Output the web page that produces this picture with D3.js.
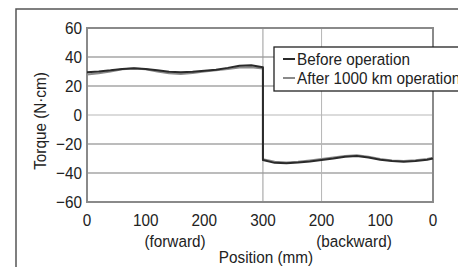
<!DOCTYPE html>
<html>
<head>
<meta charset="utf-8">
<script src="https://cdn.jsdelivr.net/npm/d3@7"></script>
<style>
  html, body { margin: 0; padding: 0; background: #fff; }
  svg { display: block; font-family: "Liberation Sans", Arial, sans-serif; }
</style>
</head>
<body>
<div id="chart"></div>
<script>
// travel position in mm along the whole stroke (forward 0..300, then backward)
const posMm = [0, 20, 40, 60, 80, 100, 120, 140, 160, 180, 200, 220, 240, 260, 280, 300,
  300, 320, 340, 360, 380, 400, 420, 440, 460, 480, 500, 520, 540, 560, 580, 590];

const beforeOp = [29.5, 30, 30.8, 31.8, 32.2, 31.8, 30.8, 29.8, 29.4, 29.8, 30.5, 31.2, 32.5, 34, 34.3, 33,
  -31, -33, -33.3, -32.8, -32, -31, -30, -28.8, -28.3, -29.3, -30.8, -31.8, -32.2, -31.8, -30.8, -30];

const afterOp = [28, 28.8, 30, 31.5, 32, 31.5, 30, 28.8, 28.2, 29, 30, 30.8, 31.8, 32.8, 33, 32,
  -30.5, -32.3, -32.8, -32.3, -31.3, -30.3, -29.3, -28.3, -27.8, -28.8, -30.3, -31.3, -31.7, -31.2, -30.3, -29.5];

const xTickPos = [0, 100, 200, 300, 400, 500, 590];
const xTickLabels = ["0", "100", "200", "300", "200", "100", "0"];
const yTicks = [60, 40, 20, 0, -20, -40, -60];
const seriesNames = ["Before operation", "After 1000 km operation"];
const seriesColors = ["#2a2a2a", "#8a8a8a"];

const W = 458, H = 267;
const M = { top: 28, right: 25, bottom: 65, left: 87 };
const FS = 17;      // font size
const SX = 0.9;     // the source lettering is a bit condensed

const svg = d3.select("#chart").append("svg")
  .attr("width", W)
  .attr("height", H);

svg.append("rect").attr("width", W).attr("height", H).attr("fill", "#fff");

// condensed text helper
const label = (parent, tx, ty, str, anchor, rot) => parent.append("text")
  .attr("transform", `translate(${tx},${ty})` + (rot ? ` rotate(${rot})` : "") + ` scale(${SX},1)`)
  .attr("text-anchor", anchor || "start")
  .attr("font-size", FS)
  .attr("fill", "#222")
  .text(str);

// outer frame (left and top edges only visible)
svg.append("path")
  .attr("d", `M16,${H + 2} V9 H${W + 2}`)
  .attr("fill", "none")
  .attr("stroke", "#555")
  .attr("stroke-width", 1.5);

const x = d3.scaleLinear().domain([0, 590]).range([M.left, W - M.right]);
const y = d3.scaleLinear().domain([-60, 60]).range([H - M.bottom, M.top]);

// horizontal grid
svg.append("g")
  .selectAll("line")
  .data(yTicks.filter(d => Math.abs(d) < 60))
  .join("line")
  .attr("x1", x(0)).attr("x2", x(590))
  .attr("y1", d => y(d)).attr("y2", d => y(d))
  .attr("stroke", d => d === 0 ? "#cfcfcf" : "#7a7a7a")
  .attr("stroke-width", d => d === 0 ? 1.6 : 1.2);

// vertical grid (turnaround + one backward line)
svg.append("g")
  .selectAll("line")
  .data([300, 400])
  .join("line")
  .attr("x1", d => x(d)).attr("x2", d => x(d))
  .attr("y1", y(60)).attr("y2", y(-60))
  .attr("stroke", d => d === 300 ? "#9a9a9a" : "#b5b5b5")
  .attr("stroke-width", 1);

// plot frame
svg.append("rect")
  .attr("x", x(0)).attr("y", y(60))
  .attr("width", x(590) - x(0)).attr("height", y(-60) - y(60))
  .attr("fill", "none")
  .attr("stroke", "#8a8a8a")
  .attr("stroke-width", 2);

// lines
const line = d3.line()
  .x((d, i) => x(posMm[i]))
  .y(d => y(d));

[afterOp, beforeOp].forEach((vals, k) => {
  svg.append("path")
    .datum(vals)
    .attr("d", line)
    .attr("fill", "none")
    .attr("stroke", k === 0 ? seriesColors[1] : seriesColors[0])
    .attr("stroke-width", 2)
    .attr("stroke-linejoin", "round");
});

// y tick labels
const yg = svg.append("g");
yTicks.forEach(d => {
  label(yg, 82, y(d) + 6, d < 0 ? "\u2212" + Math.abs(d) : String(d), "end");
});

// x tick labels
const xg = svg.append("g");
xTickPos.forEach((d, i) => label(xg, x(d), 226, xTickLabels[i], "middle"));

label(svg, 175, 247, "(forward)", "middle");
label(svg, 354, 247, "(backward)", "middle");
label(svg, 266, 263, "Position (mm)", "middle");
label(svg, 46, 121, "Torque (N\u00b7cm)", "middle", -90);

// legend
const lg = svg.append("g").attr("transform", "translate(274,47)");
lg.append("rect")
  .attr("width", 200).attr("height", 44)
  .attr("fill", "#fff")
  .attr("stroke", "#222")
  .attr("stroke-width", 1.3);

seriesNames.forEach((d, i) => {
  const g = lg.append("g").attr("transform", `translate(0,${12 + i * 19})`);
  g.append("line")
    .attr("x1", 9).attr("x2", 21)
    .attr("stroke", seriesColors[i])
    .attr("stroke-width", 2);
  label(g, 23, 6, d, "start");
});
</script>
</body>
</html>
